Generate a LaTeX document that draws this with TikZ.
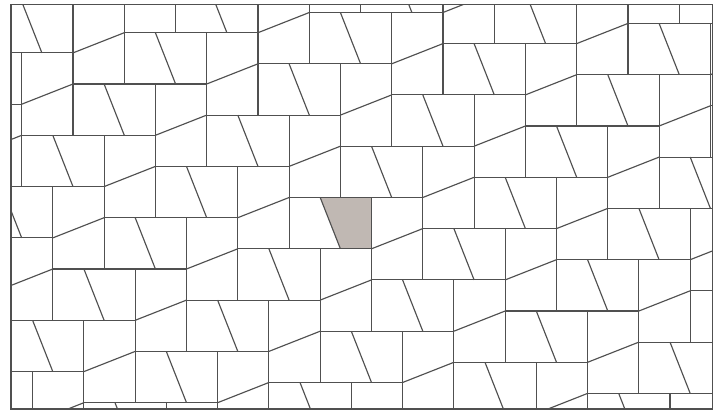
\documentclass[tikz,border=0pt]{standalone}
\usepackage{tikz}
\definecolor{tileline}{RGB}{80,80,80}
\definecolor{tilegrey}{RGB}{192,184,179}
\newcommand{\tileA}{51.3}
\newcommand{\tileB}{31.1}
\newcommand{\tileC}{82.4}
\tikzset{edge/.style={tileline, line width=1.15pt}}
\begin{document}
\begin{tikzpicture}[x=1pt, y=-1pt]
  \useasboundingbox (0,0) rectangle (724,412);
  \begin{scope}
    \clip (11,4.3) rectangle (712.5,409);
    % Shaded piece
    \pgfmathsetmacro{\gx}{73+\tileA+2*\tileC}
    \pgfmathsetmacro{\gy}{84-\tileA+2*\tileC}
    \fill[tilegrey] (\gx+\tileB,\gy) -- (\gx+\tileC,\gy)
      -- (\gx+\tileC,\gy+\tileA) -- (\gx+\tileA,\gy+\tileA) -- cycle;
    % Blocks, each cut in two pieces
    \foreach \m in {-5,...,8}{
      \foreach \n in {-3,...,6}{
        \pgfmathsetmacro{\px}{73+\m*\tileA+\n*\tileC}
        \pgfmathsetmacro{\py}{84-\m*\tileA+\n*\tileC}
        % lying block
        \draw[edge] (\px,\py) rectangle ++(\tileC,\tileA);
        \draw[edge] (\px+\tileB,\py) -- (\px+\tileA,\py+\tileA);
        % standing block
        \draw[edge] (\px,\py) rectangle ++(\tileA,-\tileC);
        \draw[edge] (\px,\py-\tileB) -- (\px+\tileA,\py-\tileA);
      }
    }
  \end{scope}
  % Frame
  \draw[edge] (11,4.3) rectangle (712.5,409);
\end{tikzpicture}
\end{document}
